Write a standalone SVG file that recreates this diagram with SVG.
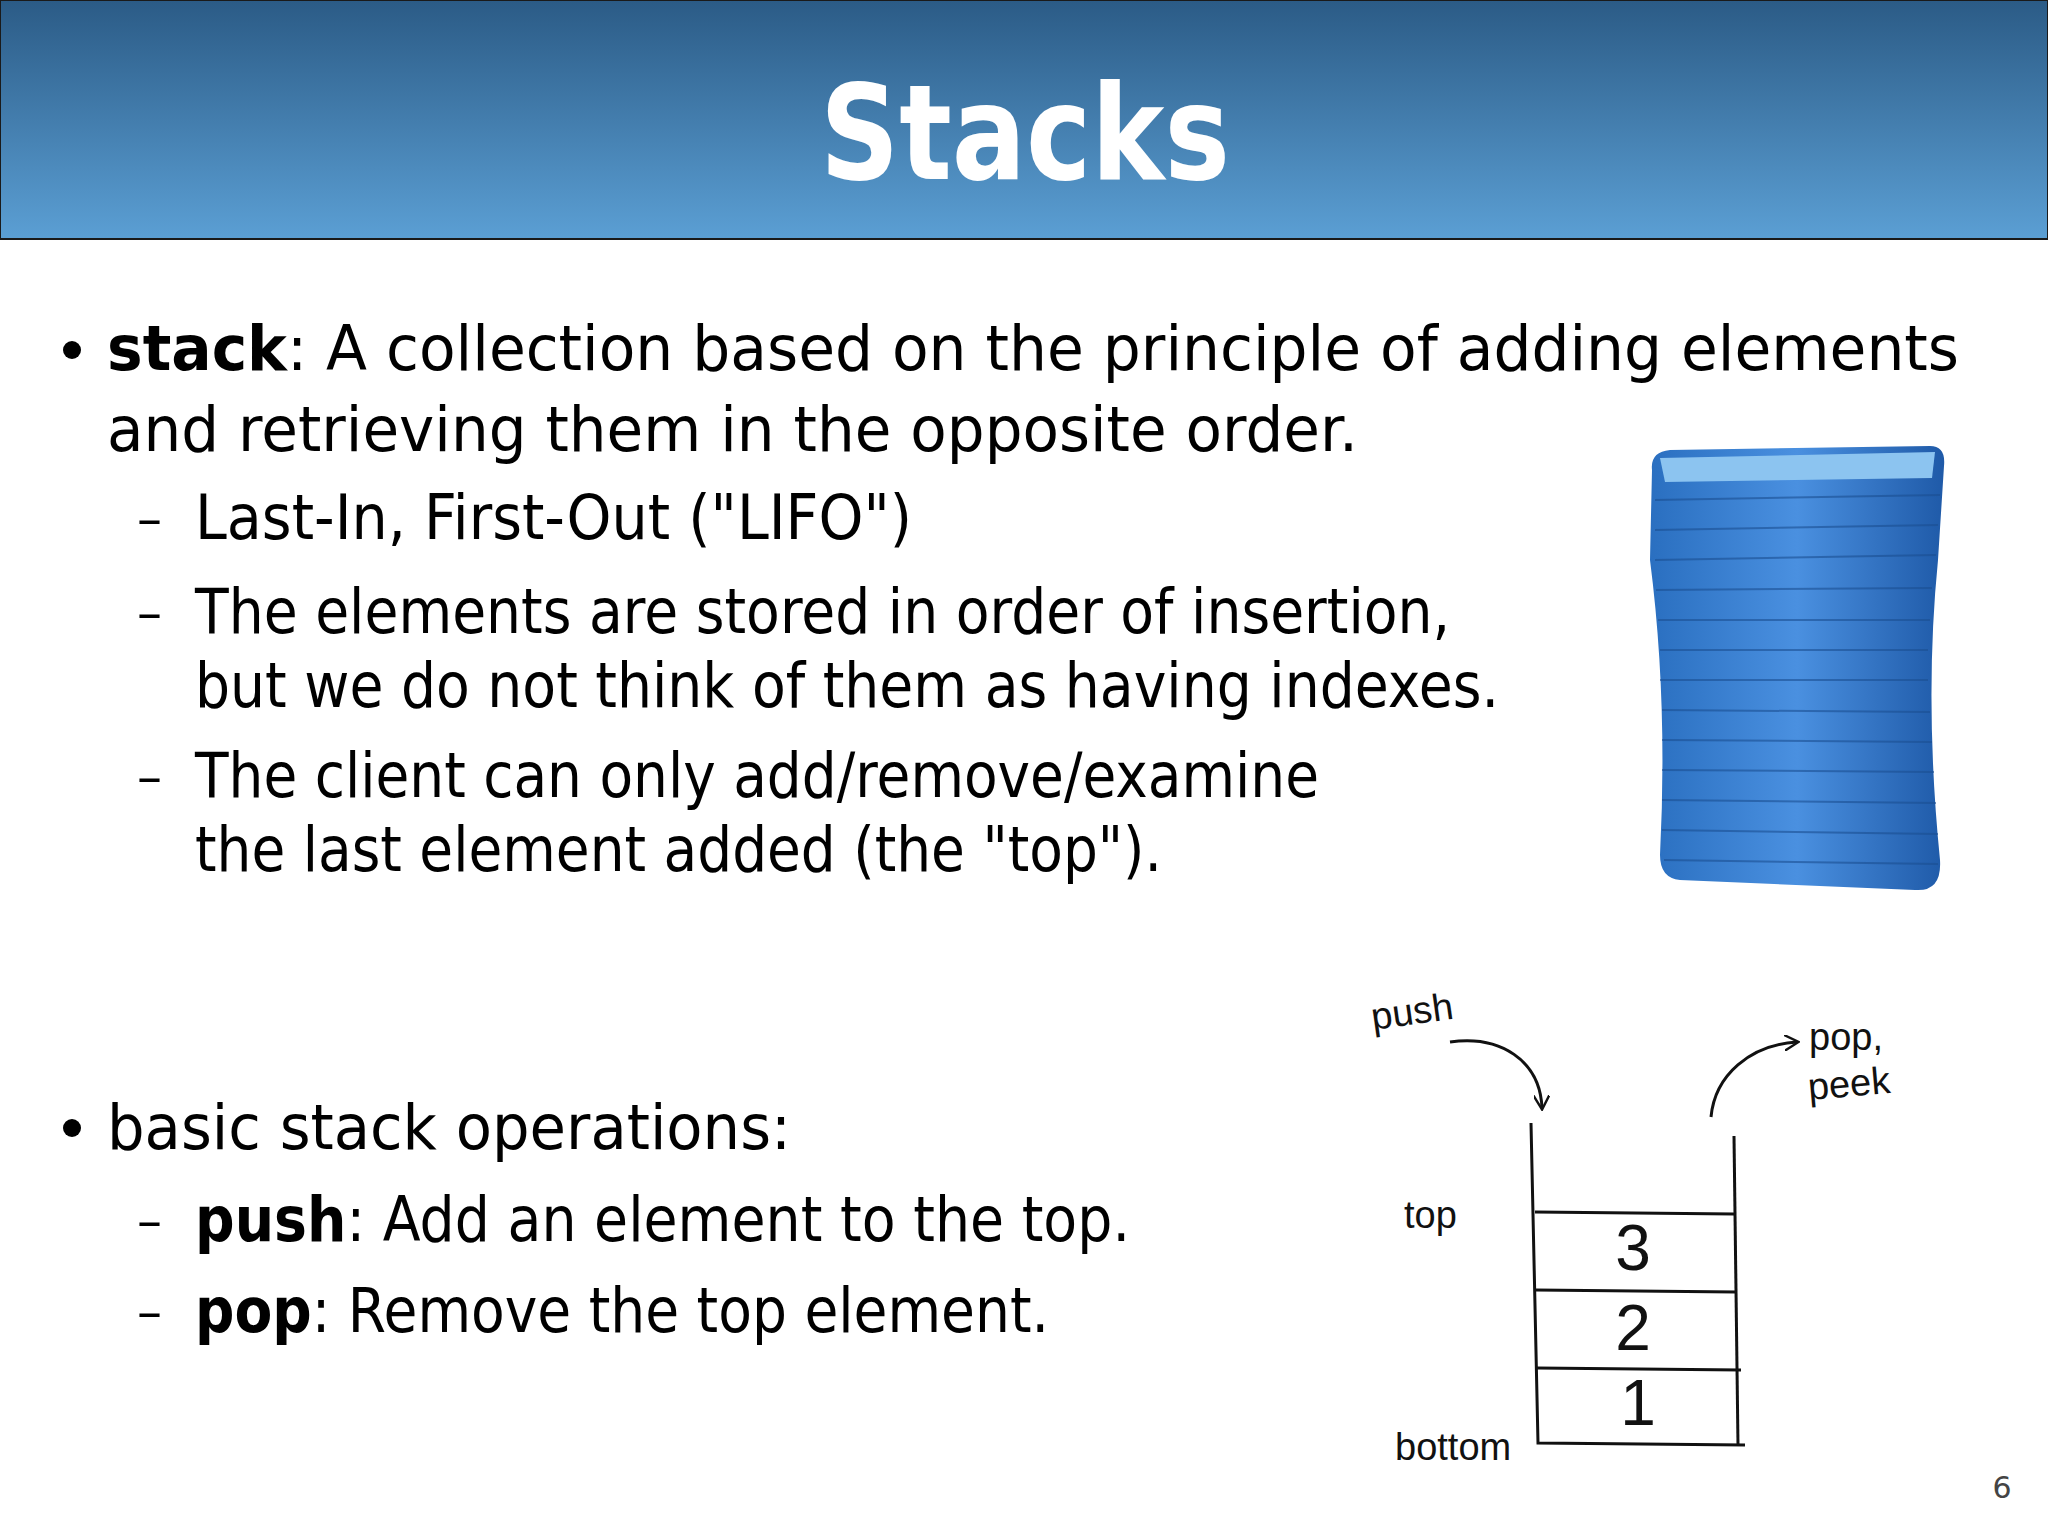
<svg xmlns="http://www.w3.org/2000/svg" width="2048" height="1536" viewBox="0 0 2048 1536">
<defs>
<linearGradient id="hdr" x1="0" y1="0" x2="0" y2="1">
<stop offset="0" stop-color="#2b5b86"/><stop offset="1" stop-color="#5b9fd4"/>
</linearGradient>
<linearGradient id="tray" x1="0" y1="0" x2="1" y2="0">
<stop offset="0" stop-color="#2a6fc0"/><stop offset="0.5" stop-color="#4a90e0"/><stop offset="1" stop-color="#1f5aa8"/>
</linearGradient>
<marker id="ah" viewBox="0 0 10 10" refX="8" refY="5" markerWidth="16" markerHeight="16" orient="auto" markerUnits="userSpaceOnUse">
<path d="M0,0 L9,5 L0,10" fill="none" stroke="#111" stroke-width="1.5"/>
</marker>
<style>
.b{font-family:"DejaVu Sans",Verdana,sans-serif;font-size:62px;fill:#000}
.d{font-family:"DejaVu Sans",Verdana,sans-serif;font-size:50px;fill:#000}
.bd{font-weight:bold}
.h{font-family:"Liberation Sans",Arial,sans-serif;font-size:38px;fill:#111}
.n{font-family:"Liberation Sans",Arial,sans-serif;font-size:64px;fill:#111;text-anchor:middle}
.ln{stroke:#111;stroke-width:3;fill:none}
</style>
</defs>
<rect width="2048" height="1536" fill="#fff"/>
<g id="header">
<rect x="0" y="0" width="2048" height="239" fill="url(#hdr)" stroke="#1a1a1a" stroke-width="2"/>
<text x="820" y="179" textLength="410" lengthAdjust="spacingAndGlyphs" font-family="DejaVu Sans,Verdana,sans-serif" font-weight="bold" font-size="132" fill="#fff">Stacks</text>
</g>
<g id="text">
<circle cx="72" cy="350" r="9" fill="#000"/>
<text class="b" x="107" y="370" textLength="1852" lengthAdjust="spacingAndGlyphs"><tspan class="bd">stack</tspan>: A collection based on the principle of adding elements</text>
<text class="b" x="107" y="451" textLength="1251" lengthAdjust="spacingAndGlyphs">and retrieving them in the opposite order.</text>
<text class="d" x="137" y="536">–</text>
<text class="b" x="195" y="539" textLength="717" lengthAdjust="spacingAndGlyphs">Last-In, First-Out ("LIFO")</text>
<text class="d" x="137" y="630">–</text>
<text class="b" x="195" y="633" textLength="1255" lengthAdjust="spacingAndGlyphs">The elements are stored in order of insertion,</text>
<text class="b" x="195" y="707" textLength="1304" lengthAdjust="spacingAndGlyphs">but we do not think of them as having indexes.</text>
<text class="d" x="137" y="794">–</text>
<text class="b" x="195" y="797" textLength="1124" lengthAdjust="spacingAndGlyphs">The client can only add/remove/examine</text>
<text class="b" x="195" y="871" textLength="967" lengthAdjust="spacingAndGlyphs">the last element added (the "top").</text>
<circle cx="72" cy="1128" r="9" fill="#000"/>
<text class="b" x="107" y="1149" textLength="684" lengthAdjust="spacingAndGlyphs">basic stack operations:</text>
<text class="d" x="137" y="1238">–</text>
<text class="b" x="195" y="1241" textLength="935" lengthAdjust="spacingAndGlyphs"><tspan class="bd">push</tspan>: Add an element to the top.</text>
<text class="d" x="137" y="1329">–</text>
<text class="b" x="195" y="1332" textLength="854" lengthAdjust="spacingAndGlyphs"><tspan class="bd">pop</tspan>: Remove the top element.</text>
<text x="2002" y="1498" font-family="DejaVu Sans,sans-serif" font-size="30" fill="#444" text-anchor="middle">6</text>
</g>
<g id="trays">
<path d="M1652,470 Q1650,452 1670,450 L1930,446 Q1946,446 1944,466 L1938,560 Q1924,700 1940,860 Q1942,892 1915,890 L1680,880 Q1660,878 1660,855 Q1668,700 1650,560 Z" fill="url(#tray)"/>
<path d="M1660,458 L1935,452 L1932,478 L1665,482 Z" fill="#8cc4f0"/>
<g stroke="#1b4f92" stroke-width="2" opacity="0.6">
<line x1="1655" y1="500" x2="1940" y2="495"/><line x1="1655" y1="530" x2="1938" y2="525"/>
<line x1="1655" y1="560" x2="1936" y2="555"/><line x1="1656" y1="590" x2="1932" y2="588"/>
<line x1="1658" y1="620" x2="1930" y2="620"/><line x1="1660" y1="650" x2="1928" y2="650"/>
<line x1="1660" y1="680" x2="1928" y2="680"/><line x1="1662" y1="710" x2="1930" y2="712"/>
<line x1="1662" y1="740" x2="1932" y2="742"/><line x1="1662" y1="770" x2="1934" y2="772"/>
<line x1="1662" y1="800" x2="1936" y2="803"/><line x1="1662" y1="830" x2="1938" y2="834"/>
<line x1="1664" y1="860" x2="1938" y2="864"/>
</g>
</g>
<g id="stackdiagram">
<path class="ln" d="M1531,1123 L1538,1443 L1745,1445"/>
<path class="ln" d="M1734,1136 L1738,1445"/>
<line class="ln" x1="1535" y1="1212" x2="1734" y2="1214"/>
<line class="ln" x1="1536" y1="1290" x2="1736" y2="1292"/>
<line class="ln" x1="1537" y1="1368" x2="1741" y2="1370"/>
<text class="n" x="1633" y="1270">3</text>
<text class="n" x="1633" y="1350">2</text>
<text class="n" x="1638" y="1425">1</text>
<text class="h" x="1404" y="1228">top</text>
<text class="h" x="1395" y="1460">bottom</text>
<text class="h" x="1373" y="1030" transform="rotate(-8 1373 1030)">push</text>
<text class="h" x="1809" y="1050">pop,</text>
<text class="h" x="1809" y="1100" transform="rotate(-5 1809 1100)">peek</text>
</g>
<g id="connectors">
<path class="ln" d="M1450,1042 C1500,1035 1540,1060 1542,1108" marker-end="url(#ah)"/>
<path class="ln" d="M1711,1117 C1715,1075 1750,1045 1797,1042" marker-end="url(#ah)"/>
</g>
</svg>
